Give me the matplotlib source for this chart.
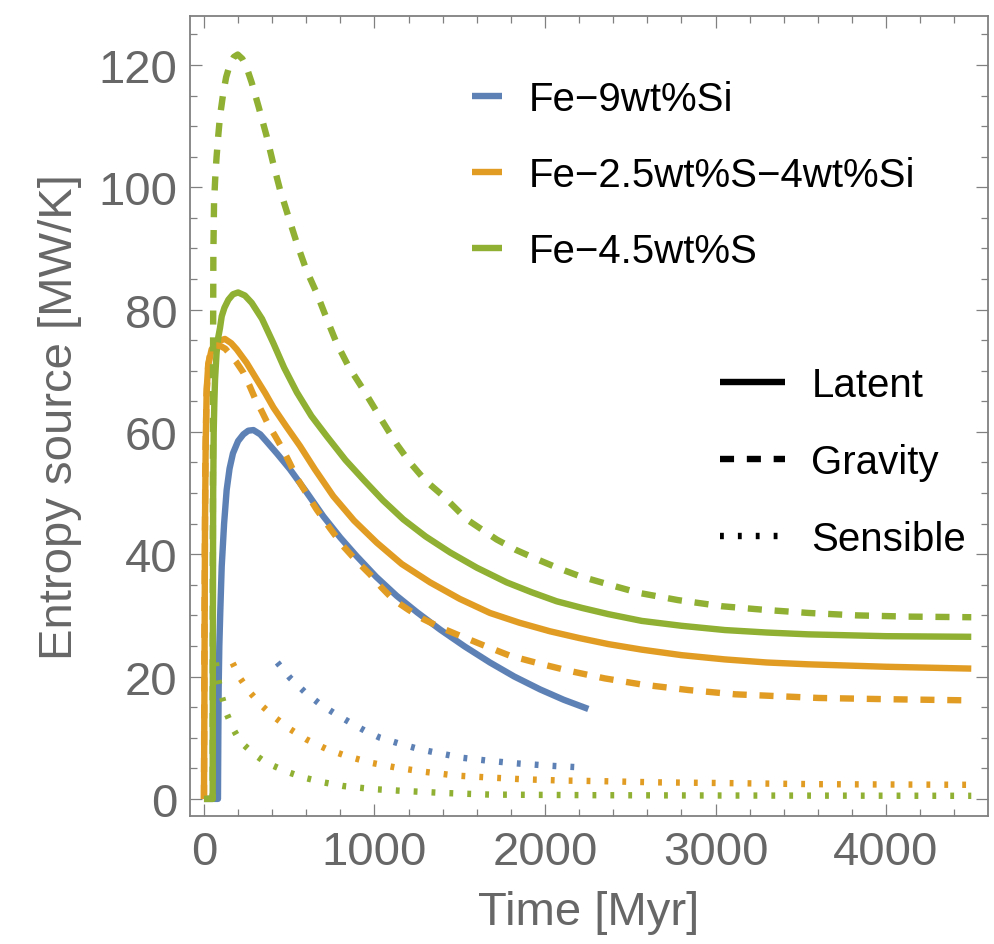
import matplotlib
matplotlib.use("Agg")
import matplotlib.pyplot as plt
from matplotlib.lines import Line2D
from matplotlib.ticker import MultipleLocator

# time in Myr, entropy source in MW/K
alloys = ["Fe\u22129wt%Si", "Fe\u22122.5wt%S\u22124wt%Si", "Fe\u22124.5wt%S"]
colors = ["#5E81B5", "#E19C24", "#8FB032"]

# latent heat
t_lat_si = [0, 82, 84, 86, 90, 96, 104, 118, 133, 150, 170, 200, 231, 260, 290, 330, 368, 430, 504,
            600, 700, 800, 895, 1010, 1130, 1250, 1384, 1530, 1677, 1820, 1971, 2110, 2254]
s_lat_si = [0, 0, 10, 18, 25, 31, 38, 45, 50.5, 54, 56.5, 58.5, 59.6, 60.2, 60.3, 59.6, 58.4, 56.4, 53.9,
            50.2, 46.2, 42.7, 39.7, 36.3, 33.2, 30.5, 27.7, 24.9, 22.3, 20.0, 17.9, 16.2, 14.7]

t_lat_ssi = [0, 3, 6, 10, 16, 25, 45, 80, 123, 160, 192, 250, 309, 360, 407, 480, 563, 650, 758, 880,
             1013, 1160, 1326, 1500, 1677, 1850, 2029, 2200, 2372, 2567, 2800, 3056, 3300, 3544, 4000, 4500]
s_lat_ssi = [0, 20, 45, 58, 67, 71, 73.5, 74.8, 75.2, 74.5, 73.5, 71.3, 68.6, 66.3, 64.0, 61.0, 57.7, 53.9, 49.5, 45.5,
             41.9, 38.4, 35.4, 32.7, 30.4, 28.8, 27.4, 26.3, 25.3, 24.4, 23.5, 22.8, 22.3, 22.0, 21.6, 21.3]

t_lat_s = [0, 51, 52, 54, 57, 61, 65, 74, 84, 94, 104, 120, 143, 170, 200, 240, 280, 340, 407, 470, 544,
           630, 720, 830, 935, 1050, 1169, 1300, 1443, 1600, 1775, 1920, 2069, 2220, 2372, 2567, 2800,
           3056, 3300, 3544, 4000, 4500]
s_lat_s = [0, 0, 25, 50, 60, 65, 68.6, 73, 75.5, 77, 78.9, 80.3, 81.6, 82.5, 82.8, 82.3, 81.1, 78.5, 74.5, 70.5, 66.5,
           62.6, 59.3, 55.4, 52.2, 48.8, 45.7, 42.9, 40.3, 37.8, 35.4, 33.8, 32.3, 31.2, 30.2, 29.1, 28.3,
           27.6, 27.2, 26.9, 26.6, 26.5]

# gravitational energy
t_grav_ssi = [0, 3, 8, 15, 25, 40, 64, 100, 125, 150, 190, 231, 265, 299, 340, 377, 420, 465, 505, 544,
              600, 661, 740, 817, 895, 974, 1040, 1110, 1200, 1286, 1380, 1482, 1640, 1795, 1970, 2147,
              2350, 2567, 2840, 3114, 3360, 3603, 4000, 4500]
s_grav_ssi = [0, 30, 55, 66, 71, 73.3, 74.2, 74, 73.6, 72.8, 71.4, 69.7, 67.7, 65.5, 63.3, 61.2, 59.2, 57, 54.8, 52.5,
              50, 47.3, 44.2, 41.3, 38.9, 36.7, 34.6, 32.6, 30.9, 29.4, 28.1, 26.9, 25.1, 23.4, 22.1, 20.9,
              19.7, 18.7, 17.8, 17.1, 16.8, 16.5, 16.3, 16.1]

t_grav_s = [0, 51, 52, 53, 55, 59, 66, 74, 84, 94, 113, 130, 152, 175, 198, 225, 250, 280, 320, 368, 405,
            446, 495, 544, 600, 661, 720, 778, 850, 935, 1052, 1130, 1208, 1300, 1404, 1541, 1717, 1830,
            1951, 2080, 2205, 2380, 2547, 2780, 3036, 3290, 3544, 3830, 4131, 4500]
s_grav_s = [0, 0, 40, 70, 89, 97.4, 101.5, 105, 108.5, 111.6, 115.4, 118, 120.1, 121.3, 121.7, 121, 119.6, 117.1,
            113.2, 108.3, 104, 99.6, 95.2, 90.9, 86.5, 82.7, 78.5, 74.5, 70.6, 66.9, 61.5, 58, 55, 52, 49.5,
            45.7, 42.4, 40.7, 39.2, 37.7, 36.4, 35, 33.7, 32.5, 31.5, 30.9, 30.4, 30.0, 29.8, 29.7]

# sensible heat
t_sens_si = [430, 504, 590, 680, 770, 856, 940, 1032, 1150, 1267, 1390, 1521, 1680, 1834, 2040, 2244]
s_sens_si = [22.3, 19.8, 17.5, 15.5, 13.9, 12.5, 11.2, 10.0, 9.0, 8.1, 7.4, 6.7, 6.2, 5.8, 5.4, 5.1]

t_sens_ssi = [168, 215, 270, 340, 416, 505, 602, 715, 837, 980, 1130, 1300, 1482, 1670, 1873, 2100, 2323,
              2660, 3000, 3600, 4500]
s_sens_ssi = [22.2, 19.6, 17.4, 15.2, 13.3, 11.4, 9.7, 8.2, 7.0, 5.9, 5.1, 4.4, 3.8, 3.5, 3.2, 3.0, 2.9,
              2.7, 2.6, 2.4, 2.3]

t_sens_s = [70, 80, 104, 135, 172, 200, 231, 270, 309, 355, 407, 490, 583, 700, 817, 990, 1169, 1420,
            1677, 2300, 3000, 4500]
s_sens_s = [22.3, 20.0, 16.8, 13.8, 11.4, 10.0, 8.9, 7.9, 7.0, 6.1, 5.4, 4.4, 3.5, 2.7, 2.1, 1.6, 1.3, 0.95,
            0.7, 0.6, 0.55, 0.5]

source_names = ["Latent", "Gravity", "Sensible"]

plt.rcParams["font.family"] = ["Liberation Sans", "DejaVu Sans"]

LW = 4.6
DASHED = (0, (2.2, 2.0))
DOTTED = (0, (0.6, 2.2))
GREY = "#808080"
LABEL_GREY = "#676767"

fig = plt.figure(figsize=(9.95, 9.45), dpi=100)
ax = fig.add_axes([0.19095, 0.13545, 0.80201, 0.84656])

latent = [(t_lat_si, s_lat_si, colors[0]),
          (t_lat_ssi, s_lat_ssi, colors[1]),
          (t_lat_s, s_lat_s, colors[2])]
gravity = [(t_grav_ssi, s_grav_ssi, colors[1]),
           (t_grav_s, s_grav_s, colors[2])]
sensible = [(t_sens_si, s_sens_si, colors[0]),
            (t_sens_ssi, s_sens_ssi, colors[1]),
            (t_sens_s, s_sens_s, colors[2])]

for t, s, c in latent:
    ax.plot(t, s, color=c, lw=LW, solid_capstyle="butt", solid_joinstyle="round")
for t, s, c in gravity:
    ax.plot(t, s, color=c, lw=LW, linestyle=DASHED, dash_capstyle="butt", dash_joinstyle="round")
for t, s, c in sensible:
    ax.plot(t, s, color=c, lw=LW, linestyle=DOTTED, dash_capstyle="butt")

ax.set_xlim(-82, 4598)
ax.set_ylim(-2.8, 128)

ax.xaxis.set_major_locator(MultipleLocator(1000))
ax.xaxis.set_minor_locator(MultipleLocator(200))
ax.yaxis.set_major_locator(MultipleLocator(20))
ax.yaxis.set_minor_locator(MultipleLocator(5))

for side in ax.spines.values():
    side.set_color(GREY)
    side.set_linewidth(1.3)

ax.tick_params(which="both", direction="in", top=True, right=True, color=GREY, width=0.9)
ax.tick_params(which="major", length=8.6, labelsize=34, labelcolor=LABEL_GREY)
ax.tick_params(which="minor", length=4.8)
ax.tick_params(axis="x", which="major", pad=10)
ax.tick_params(axis="y", which="major", pad=9)

ax.set_xlabel("Time [Myr]", fontsize=34, color=LABEL_GREY)
ax.set_ylabel("Entropy source [MW/K]", fontsize=34, color=LABEL_GREY)
ax.xaxis.set_label_coords(0.5, -0.092)
ax.yaxis.set_label_coords(-0.135, 0.5)

alloy_handles = [Line2D([], [], color=c, lw=LW, solid_capstyle="butt") for c in colors]
leg1 = ax.legend(alloy_handles, alloys, loc="upper left", bbox_to_anchor=(0.353, 0.9205),
                 frameon=False, fontsize=29, handlelength=0.76, handletextpad=0.65,
                 labelspacing=0.95, borderpad=0, borderaxespad=0)
ax.add_artist(leg1)

style_handles = [Line2D([], [], color="black", lw=LW, solid_capstyle="butt"),
                 Line2D([], [], color="black", lw=LW, linestyle=DASHED, dash_capstyle="butt"),
                 Line2D([], [], color="black", lw=LW, linestyle=DOTTED, dash_capstyle="butt")]
ax.legend(style_handles, source_names, loc="upper left", bbox_to_anchor=(0.664, 0.563),
          frameon=False, fontsize=29, handlelength=1.61, handletextpad=0.66,
          labelspacing=0.97, borderpad=0, borderaxespad=0)

fig.savefig("out.png", dpi=100)
